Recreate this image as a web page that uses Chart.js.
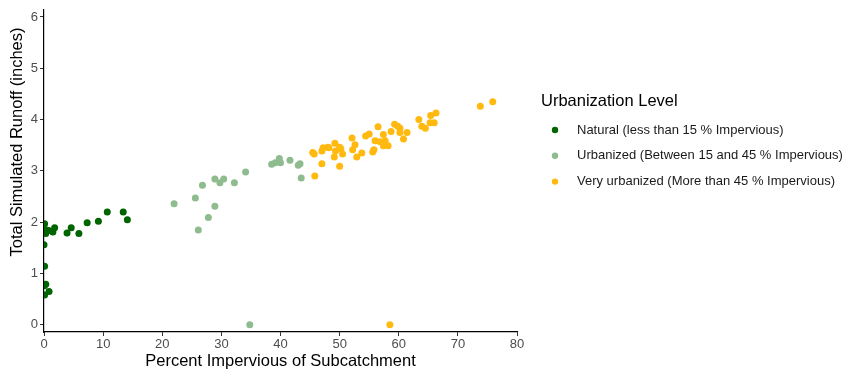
<!DOCTYPE html>
<html>
<head>
<meta charset="utf-8">
<script src="https://cdn.jsdelivr.net/npm/chart.js@4.4.1/dist/chart.umd.min.js"></script>
<style>
  html, body { margin: 0; padding: 0; background: #ffffff; }
  #wrap { width: 845px; height: 377px; position: relative; }
</style>
</head>
<body>
<div id="wrap"><canvas id="c" width="845" height="377"></canvas></div>
<script>
// ---- Data ----
const seriesLabels = [
  "Natural (less than 15 % Impervious)",
  "Urbanized (Between 15 and 45 % Impervious)",
  "Very urbanized (More than 45 % Impervious)"
];
const legendTitle = "Urbanization Level";
const xTitle = "Percent Impervious of Subcatchment";
const yTitle = "Total Simulated Runoff (inches)";

const naturalX = [0.1, 0.4, 0.3, 0.8, 0.0, 0.1, 0.3, 0.05, 0.85, 0.1, 1.5, 1.8, 3.9, 4.6, 5.9, 7.3, 9.2, 10.7, 13.4, 14.1];
const naturalY = [1.97, 1.85, 1.78, 1.84, 1.56, 1.14, 0.79, 0.76, 0.65, 0.58, 1.81, 1.89, 1.79, 1.89, 1.78, 1.99, 2.02, 2.20, 2.20, 2.05];

const urbanX = [22.0, 25.6, 26.1, 27.8, 28.9, 26.8, 28.9, 29.75, 30.4, 32.2, 34.1, 38.5, 39.1, 39.8, 40.0, 41.6, 43.0, 43.3, 43.5, 34.8];
const urbanY = [2.36, 2.47, 1.85, 2.09, 2.31, 2.72, 2.84, 2.77, 2.84, 2.77, 2.98, 3.13, 3.16, 3.24, 3.16, 3.21, 3.11, 3.14, 2.86, 0.00];

const veryX = [45.8, 45.45, 45.7, 47.0, 47.0, 47.2, 48.0, 48.2, 49.2, 49.3, 49.1, 50.0, 50.2, 50.5, 50.0,
               52.1, 52.6, 52.2, 52.9, 53.75, 54.4, 55.0, 55.6, 55.8, 56.0, 56.5, 56.85, 57.4, 57.7, 57.4,
               58.2, 58.7, 59.3, 59.85, 60.2, 60.2, 60.8, 61.4, 63.4, 63.9, 64.5, 65.4, 65.3, 66.0, 66.3,
               73.8, 75.9, 58.5];
const veryY = [2.90, 3.36, 3.33, 3.14, 3.39, 3.45, 3.46, 3.45, 3.54, 3.39, 3.27, 3.46, 3.43, 3.33, 3.09,
               3.64, 3.51, 3.41, 3.27, 3.35, 3.68, 3.72, 3.37, 3.41, 3.59, 3.86, 3.57, 3.71, 3.59, 3.49,
               3.49, 3.77, 3.91, 3.87, 3.83, 3.75, 3.62, 3.75, 4.00, 3.87, 3.83, 4.08, 3.94, 3.94, 4.13,
               4.26, 4.35, 0.00];

const xTicks = [0, 10, 20, 30, 40, 50, 60, 70, 80];
const yTicks = [0, 1, 2, 3, 4, 5, 6];

const seriesColors = ["#006400", "#8FBC8F", "#FFB90F"];

// ---- Build datasets ----
function pts(xs, ys) { return xs.map((x, i) => ({ x: x, y: ys[i] })); }
const datasets = [
  { label: seriesLabels[0], data: pts(naturalX, naturalY) },
  { label: seriesLabels[1], data: pts(urbanX, urbanY) },
  { label: seriesLabels[2], data: pts(veryX, veryY) }
].map((d, i) => Object.assign(d, {
  backgroundColor: seriesColors[i],
  borderColor: seriesColors[i],
  borderWidth: 0,
  pointRadius: 3.5,
  pointHoverRadius: 3.5
}));

const FONT = "'Liberation Sans', Arial, sans-serif";

// Custom ggplot-like legend and y-axis title
const ggExtras = {
  id: 'ggExtras',
  afterDraw(chart) {
    const ctx = chart.ctx;
    ctx.save();
    // y-axis title (rotated)
    ctx.save();
    ctx.translate(17.5, 142);
    ctx.rotate(-Math.PI / 2);
    ctx.fillStyle = '#000000';
    ctx.font = '16.5px ' + FONT;
    ctx.textAlign = 'center';
    ctx.textBaseline = 'middle';
    ctx.fillText(yTitle, 0, 0);
    ctx.restore();
    // legend
    ctx.fillStyle = '#000000';
    ctx.font = '16.5px ' + FONT;
    ctx.textBaseline = 'middle';
    ctx.textAlign = 'left';
    ctx.fillText(legendTitle, 541, 101);
    ctx.font = '13px ' + FONT;
    chart.data.datasets.forEach((ds, i) => {
      const y = 130 + i * 25.8;
      ctx.beginPath();
      ctx.fillStyle = ds.backgroundColor;
      ctx.arc(555, y, 3.2, 0, Math.PI * 2);
      ctx.fill();
      ctx.fillStyle = '#1a1a1a';
      ctx.fillText(ds.label, 577, y);
    });
    ctx.restore();
  }
};

new Chart(document.getElementById('c'), {
  type: 'scatter',
  data: { datasets: datasets },
  plugins: [ggExtras],
  options: {
    responsive: false,
    animation: false,
    layout: { padding: { top: 5, right: 328, left: 0, bottom: 0 } },
    plugins: {
      legend: { display: false },
      tooltip: { enabled: false }
    },
    scales: {
      x: {
        type: 'linear',
        min: 0, max: 80,
        afterBuildTicks: s => { s.ticks = xTicks.map(v => ({ value: v })); },
        afterFit: s => { s.height = 45; },
        grid: { drawOnChartArea: false, drawTicks: true, tickLength: 4, color: '#333333', lineWidth: 1 },
        border: { display: true, color: '#000000', width: 1.2 },
        ticks: { color: '#4d4d4d', font: { family: FONT, size: 13 }, padding: 1, maxRotation: 0 },
        title: { display: true, text: xTitle, color: '#000000', font: { family: FONT, size: 16.5 }, padding: { top: 0, bottom: 6 } }
      },
      y: {
        type: 'linear',
        min: -0.14, max: 6.14,
        afterBuildTicks: s => { s.ticks = yTicks.map(v => ({ value: v })); },
        afterFit: s => { s.width = 44; },
        grid: { drawOnChartArea: false, drawTicks: true, tickLength: 4, color: '#333333', lineWidth: 1 },
        border: { display: true, color: '#000000', width: 1.2 },
        ticks: { color: '#4d4d4d', font: { family: FONT, size: 13 }, padding: 2 },
        title: { display: false, text: yTitle }
      }
    }
  }
});
</script>
</body>
</html>
